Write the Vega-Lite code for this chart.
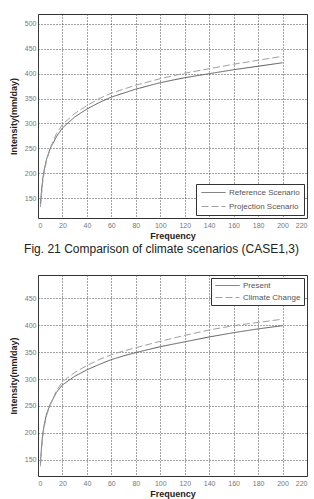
{
  "$schema": "https://vega.github.io/schema/vega-lite/v6.json",
  "background": "white",
  "padding": {"left": 8, "top": 13, "right": 0, "bottom": 0},
  "bounds": "flush",
  "spacing": 57,
  "resolve": {"scale": {"color": "independent", "strokeDash": "independent"}},
  "datasets": {
    "case1": [
      {"scenario": "Reference Scenario", "frequency": 2, "intensity": 138},
      {"scenario": "Reference Scenario", "frequency": 3, "intensity": 168},
      {"scenario": "Reference Scenario", "frequency": 4, "intensity": 191},
      {"scenario": "Reference Scenario", "frequency": 5, "intensity": 206},
      {"scenario": "Reference Scenario", "frequency": 7, "intensity": 228},
      {"scenario": "Reference Scenario", "frequency": 10, "intensity": 250},
      {"scenario": "Reference Scenario", "frequency": 15, "intensity": 273},
      {"scenario": "Reference Scenario", "frequency": 20, "intensity": 291},
      {"scenario": "Reference Scenario", "frequency": 30, "intensity": 313},
      {"scenario": "Reference Scenario", "frequency": 40, "intensity": 329},
      {"scenario": "Reference Scenario", "frequency": 50, "intensity": 342},
      {"scenario": "Reference Scenario", "frequency": 60, "intensity": 353},
      {"scenario": "Reference Scenario", "frequency": 70, "intensity": 361},
      {"scenario": "Reference Scenario", "frequency": 80, "intensity": 369},
      {"scenario": "Reference Scenario", "frequency": 100, "intensity": 382},
      {"scenario": "Reference Scenario", "frequency": 120, "intensity": 392},
      {"scenario": "Reference Scenario", "frequency": 140, "intensity": 400},
      {"scenario": "Reference Scenario", "frequency": 160, "intensity": 408},
      {"scenario": "Reference Scenario", "frequency": 180, "intensity": 415},
      {"scenario": "Reference Scenario", "frequency": 200, "intensity": 422},
      {"scenario": "Projection Scenario", "frequency": 2, "intensity": 132},
      {"scenario": "Projection Scenario", "frequency": 3, "intensity": 160},
      {"scenario": "Projection Scenario", "frequency": 4, "intensity": 185},
      {"scenario": "Projection Scenario", "frequency": 5, "intensity": 201},
      {"scenario": "Projection Scenario", "frequency": 7, "intensity": 225},
      {"scenario": "Projection Scenario", "frequency": 10, "intensity": 250},
      {"scenario": "Projection Scenario", "frequency": 15, "intensity": 279},
      {"scenario": "Projection Scenario", "frequency": 20, "intensity": 298},
      {"scenario": "Projection Scenario", "frequency": 30, "intensity": 320},
      {"scenario": "Projection Scenario", "frequency": 40, "intensity": 336},
      {"scenario": "Projection Scenario", "frequency": 50, "intensity": 350},
      {"scenario": "Projection Scenario", "frequency": 60, "intensity": 361},
      {"scenario": "Projection Scenario", "frequency": 70, "intensity": 369},
      {"scenario": "Projection Scenario", "frequency": 80, "intensity": 377},
      {"scenario": "Projection Scenario", "frequency": 100, "intensity": 390},
      {"scenario": "Projection Scenario", "frequency": 120, "intensity": 401},
      {"scenario": "Projection Scenario", "frequency": 140, "intensity": 410},
      {"scenario": "Projection Scenario", "frequency": 160, "intensity": 419},
      {"scenario": "Projection Scenario", "frequency": 180, "intensity": 427},
      {"scenario": "Projection Scenario", "frequency": 200, "intensity": 435}
    ],
    "case3": [
      {"scenario": "Present", "frequency": 2, "intensity": 143},
      {"scenario": "Present", "frequency": 3, "intensity": 178},
      {"scenario": "Present", "frequency": 4, "intensity": 200},
      {"scenario": "Present", "frequency": 5, "intensity": 214},
      {"scenario": "Present", "frequency": 7, "intensity": 235},
      {"scenario": "Present", "frequency": 10, "intensity": 253},
      {"scenario": "Present", "frequency": 15, "intensity": 275},
      {"scenario": "Present", "frequency": 20, "intensity": 289},
      {"scenario": "Present", "frequency": 30, "intensity": 305},
      {"scenario": "Present", "frequency": 40, "intensity": 317},
      {"scenario": "Present", "frequency": 50, "intensity": 327},
      {"scenario": "Present", "frequency": 60, "intensity": 336},
      {"scenario": "Present", "frequency": 70, "intensity": 343},
      {"scenario": "Present", "frequency": 80, "intensity": 349},
      {"scenario": "Present", "frequency": 100, "intensity": 360},
      {"scenario": "Present", "frequency": 120, "intensity": 369},
      {"scenario": "Present", "frequency": 140, "intensity": 378},
      {"scenario": "Present", "frequency": 160, "intensity": 386},
      {"scenario": "Present", "frequency": 180, "intensity": 393},
      {"scenario": "Present", "frequency": 200, "intensity": 399},
      {"scenario": "Climate Change", "frequency": 2, "intensity": 138},
      {"scenario": "Climate Change", "frequency": 3, "intensity": 170},
      {"scenario": "Climate Change", "frequency": 4, "intensity": 195},
      {"scenario": "Climate Change", "frequency": 5, "intensity": 210},
      {"scenario": "Climate Change", "frequency": 7, "intensity": 232},
      {"scenario": "Climate Change", "frequency": 10, "intensity": 252},
      {"scenario": "Climate Change", "frequency": 15, "intensity": 278},
      {"scenario": "Climate Change", "frequency": 20, "intensity": 295},
      {"scenario": "Climate Change", "frequency": 30, "intensity": 312},
      {"scenario": "Climate Change", "frequency": 40, "intensity": 325},
      {"scenario": "Climate Change", "frequency": 50, "intensity": 336},
      {"scenario": "Climate Change", "frequency": 60, "intensity": 345},
      {"scenario": "Climate Change", "frequency": 70, "intensity": 352},
      {"scenario": "Climate Change", "frequency": 80, "intensity": 358},
      {"scenario": "Climate Change", "frequency": 100, "intensity": 370},
      {"scenario": "Climate Change", "frequency": 120, "intensity": 381},
      {"scenario": "Climate Change", "frequency": 140, "intensity": 391},
      {"scenario": "Climate Change", "frequency": 160, "intensity": 399},
      {"scenario": "Climate Change", "frequency": 180, "intensity": 405},
      {"scenario": "Climate Change", "frequency": 200, "intensity": 411}
    ]
  },
  "config": {
    "font": "Liberation Sans",
    "view": {"stroke": "#333", "strokeWidth": 1},
    "axis": {
      "grid": true,
      "gridColor": "#444",
      "gridDash": [1, 2],
      "gridWidth": 1,
      "ticks": false,
      "domain": false,
      "labelFont": "Liberation Sans",
      "labelFontSize": 7,
      "labelColor": "#777",
      "titleFont": "Liberation Sans",
      "titleFontSize": 9,
      "titleFontWeight": "bold",
      "titleColor": "#222"
    },
    "axisX": {"labelPadding": 3, "titlePadding": 3},
    "axisY": {"labelPadding": 2, "titlePadding": 6},
    "legend": {
      "title": null,
      "symbolType": "M-3,0H3",
      "symbolSize": 64,
      "symbolOffset": 9,
      "symbolStrokeWidth": 1,
      "labelFont": "Liberation Sans",
      "labelFontSize": 8,
      "labelColor": "#555",
      "labelOffset": 11,
      "padding": 3,
      "rowPadding": 3,
      "strokeColor": "#333",
      "fillColor": "white",
      "cornerRadius": 0
    },
    "line": {"strokeWidth": 1}
  },
  "vconcat": [
    {
      "width": 269,
      "height": 204,
      "data": {"name": "case1"},
      "mark": {"type": "line"},
      "encoding": {
        "x": {
          "field": "frequency", "type": "quantitative", "title": "Frequency",
          "scale": {"domain": [0, 220], "nice": false},
          "axis": {"values": [0, 20, 40, 60, 80, 100, 120, 140, 160, 180, 200, 220]}
        },
        "y": {
          "field": "intensity", "type": "quantitative", "title": "Intensity(mm/day)",
          "scale": {"domain": [110, 520], "nice": false, "zero": false},
          "axis": {"values": [150, 200, 250, 300, 350, 400, 450, 500]}
        },
        "color": {
          "field": "scenario", "type": "nominal",
          "scale": {"domain": ["Reference Scenario", "Projection Scenario"], "range": ["#5a5a5a", "#a0a0a0"]},
          "legend": {"orient": "bottom-right", "offset": 3, "padding": 4, "rowPadding": 5}
        },
        "strokeDash": {
          "field": "scenario", "type": "nominal",
          "scale": {"domain": ["Reference Scenario", "Projection Scenario"], "range": [[1, 0], [7, 3]]},
          "legend": {"orient": "bottom-right", "offset": 3, "padding": 4, "rowPadding": 5}
        }
      }
    },
    {
      "width": 269,
      "height": 201,
      "title": {
        "text": "Fig. 21 Comparison of climate scenarios (CASE1,3)",
        "font": "Liberation Sans",
        "fontSize": 12,
        "fontWeight": "normal",
        "color": "#222",
        "anchor": "middle",
        "baseline": "alphabetic",
        "offset": 10,
        "dx": -11
      },
      "data": {"name": "case3"},
      "mark": {"type": "line"},
      "encoding": {
        "x": {
          "field": "frequency", "type": "quantitative", "title": "Frequency",
          "scale": {"domain": [0, 220], "nice": false},
          "axis": {"values": [0, 20, 40, 60, 80, 100, 120, 140, 160, 180, 200, 220]}
        },
        "y": {
          "field": "intensity", "type": "quantitative", "title": "Intensity(mm/day)",
          "scale": {"domain": [120, 493], "nice": false, "zero": false},
          "axis": {"values": [150, 200, 250, 300, 350, 400, 450]}
        },
        "color": {
          "field": "scenario", "type": "nominal",
          "scale": {"domain": ["Present", "Climate Change"], "range": ["#5a5a5a", "#a0a0a0"]},
          "legend": {"orient": "top-right", "offset": 3}
        },
        "strokeDash": {
          "field": "scenario", "type": "nominal",
          "scale": {"domain": ["Present", "Climate Change"], "range": [[1, 0], [7, 3]]},
          "legend": {"orient": "top-right", "offset": 3}
        }
      }
    }
  ]
}
